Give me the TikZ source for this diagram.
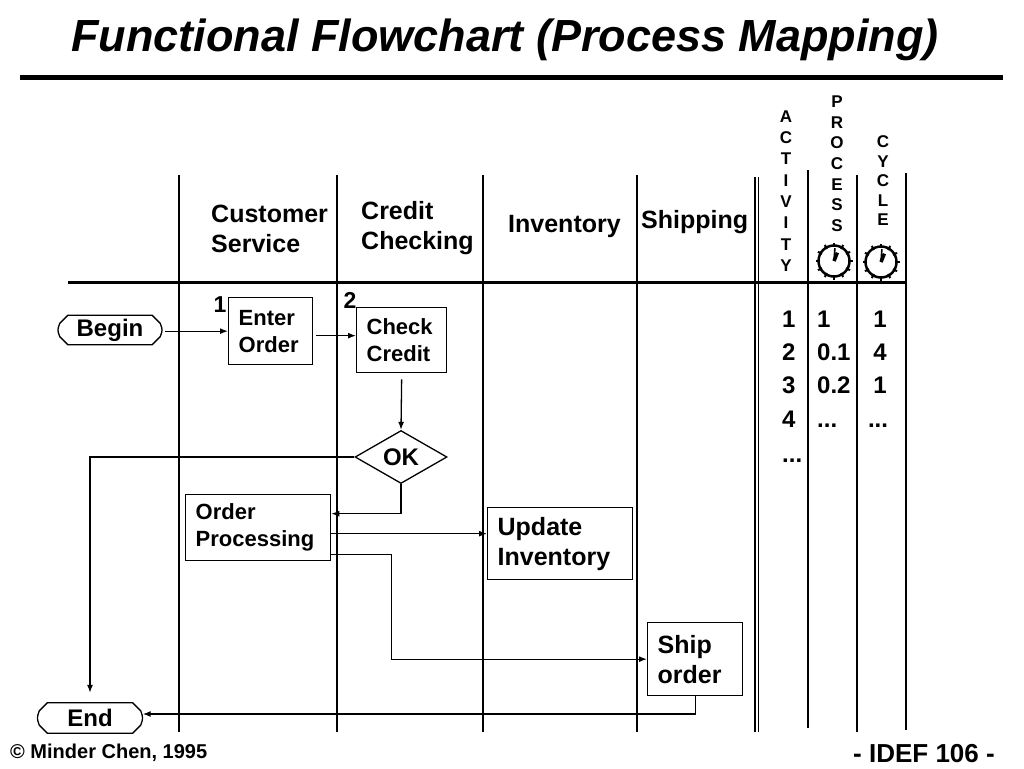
\documentclass[tikz,border=0pt]{standalone}
\usepackage{fontspec}
\setmainfont{Liberation Sans}
\usetikzlibrary{shapes.geometric,arrows.meta}
\newcommand\fsz[2]{\fontsize{#1}{#2}\selectfont\bfseries}
\newcommand\termoutline[1]{%
  \draw[termline] ([xshift=8pt]#1.north west) -- ([xshift=-8pt]#1.north east)
    -- ([yshift=-8pt]#1.north east) .. controls ([xshift=2.5pt]#1.east) .. ([yshift=8pt]#1.south east)
    -- ([xshift=-8pt]#1.south east) -- ([xshift=8pt]#1.south west)
    -- ([yshift=8pt]#1.south west) .. controls ([xshift=-2.5pt]#1.west) .. ([yshift=-8pt]#1.north west)
    -- cycle;}
\begin{document}
\begin{tikzpicture}[x=1pt,y=-1pt,
  lane/.style={line width=1.5pt},
  box/.style={draw, line width=1.3pt, align=left, inner xsep=10pt, inner ysep=0pt, anchor=north west},
  arr/.style={line width=1.3pt, -{Latex[length=8pt,width=6pt]}},
  termline/.style={line width=1.3pt},
  term/.style={font=\fsz{24}{24}, inner sep=0pt, minimum height=29pt},
  hdr/.style={font=\fsz{25}{30}, align=left, inner sep=0pt},
  vword/.style={align=center, inner sep=0pt, anchor=north},
  num/.style={font=\fsz{24}{24}, inner sep=0pt},
  clockring/.style={line width=2.5pt},
  clocktick/.style={line width=2pt},
]
\useasboundingbox (0,0) rectangle (1024,768);
\fill[white] (0,0) rectangle (1024,768);

% title
\node[anchor=base, inner sep=0pt, font=\fontsize{45}{48}\selectfont\bfseries\itshape] (title) at (505,52)
  {Functional Flowchart (Process Mapping)};
\draw[line width=5pt] (20,77) -- (1003,77);

% swim lanes
\foreach \x in {179,337,483,637} \draw[lane] (\x,175) -- (\x,732);
\draw[lane] (755,177) -- (755,732);
\draw[lane] (758.5,177) -- (758.5,732);
\draw[lane] (808,170) -- (808,728);
\draw[lane] (857,175) -- (857,732);
\draw[lane] (906,173) -- (906,730);
\draw[line width=3pt] (68,282) -- (906,282);

% lane headers
\node[hdr, anchor=west] (cs) at (211,229) {Customer\\Service};
\node[hdr, anchor=west] (cc) at (361,228.5) {Credit\\Checking};
\node[hdr, anchor=base west] (inv) at (508,232) {Inventory};
\node[hdr, anchor=base west] (shp) at (641,228) {Shipping};

% measure column headers
\node[vword, font=\fsz{17}{21.3}] (act) at (786,110.5) {A\\C\\T\\I\\V\\I\\T\\Y};
\node[vword, font=\fsz{17}{20.7}] (proc) at (837,95.5) {P\\R\\O\\C\\E\\S\\S};
\node[vword, font=\fsz{17}{19.5}] (cyc) at (883,135.5) {C\\Y\\C\\L\\E};

% clocks
\foreach \cx/\cy in {834/261, 881/262} {
  \draw[clockring] (\cx,\cy) circle[radius=15.5pt];
  \foreach \a in {0,30,...,330}
    \draw[clocktick] (\cx,\cy) ++(\a:14pt) -- ++(\a:4.5pt);
  \draw[line width=1.6pt] (\cx,\cy) -- ++(86:13pt);
  \draw[line width=3.5pt] (\cx,\cy) -- ++(68:9pt);
}

% flow nodes
\node[term, minimum width=100pt] (begin) at (110,330) {Begin};
\termoutline{begin}
\node[term, minimum width=101pt, minimum height=30pt] (endnode) at (90,718) {End};
\termoutline{endnode}

\node[num, anchor=base, font=\fsz{23}{23}] (lab1) at (220,312) {1};
\node[num, anchor=base, font=\fsz{23}{23}] (lab2) at (350,308) {2};

\node[box, text width=64pt, minimum height=67pt, font=\fsz{22}{27}] (enter) at (228,297) {Enter\\Order};
\node[box, text width=70pt, minimum height=65pt, font=\fsz{22}{27}] (check) at (356,307) {Check\\Credit};
\node[diamond, draw, line width=1.3pt, minimum width=92pt, minimum height=50pt, inner sep=0pt, font=\fsz{24}{24}] (ok) at (401,457) {OK};
\node[box, text width=125pt, minimum height=66pt, font=\fsz{22}{27}] (op) at (185,494) {Order\\Processing};
\node[box, text width=125pt, minimum height=72pt, font=\fsz{25}{30}] (ui) at (487,507) {Update\\Inventory};
\node[box, text width=75pt, minimum height=73pt, font=\fsz{25}{30}] (ship) at (647,622) {Ship\\order};

% connectors
\draw[arr] (enter.west -| begin.east) ++(5,0) -- (enter.west);
\coordinate (ec) at ([yshift=-4.5pt]enter.east);
\draw[arr] (ec) ++(3,0) -- (ec -| check.west);
\draw[arr] ([yshift=-6pt]check.south) -- (ok.north);
\draw[arr] (ok.west) -| ([yshift=10pt]endnode.north);
\draw[arr] (ok.south) |- ([yshift=14pt]op.east);
\coordinate (o1) at ([yshift=-6pt]op.east);
\draw[arr] (o1) -- (o1 -| ui.west);
\draw[arr] ([yshift=-27pt]op.east) -- ++(60,0) |- (ship.west);
\draw[arr] (ship.south) |- ([xshift=2pt,yshift=4pt]endnode.east);

% measures
\node[num, anchor=base west] (a1) at (782,327) {1};
\node[num, anchor=base west] (a2) at (782,360) {2};
\node[num, anchor=base west] (a3) at (782,393) {3};
\node[num, anchor=base west] (a4) at (782,427) {4};
\node[num, anchor=base west] (a5) at (782,462) {...};
\node[num, anchor=base west] (p1) at (817,327) {1};
\node[num, anchor=base west] (p2) at (817,360) {0.1};
\node[num, anchor=base west] (p3) at (817,393) {0.2};
\node[num, anchor=base west] (p4) at (817,427) {...};
\node[num, anchor=base] (c1) at (880,327) {1};
\node[num, anchor=base] (c2) at (880,360) {4};
\node[num, anchor=base] (c3) at (880,393) {1};
\node[num, anchor=base] (c4) at (878,427) {...};

% footer
\node[anchor=base west, inner sep=0pt, font=\fsz{20}{20}] (copy) at (10,758) {© Minder Chen, 1995};
\node[anchor=base east, inner sep=0pt, font=\fsz{26}{26}] (idef) at (995,762) {- IDEF 106 -};
\end{tikzpicture}
\end{document}
